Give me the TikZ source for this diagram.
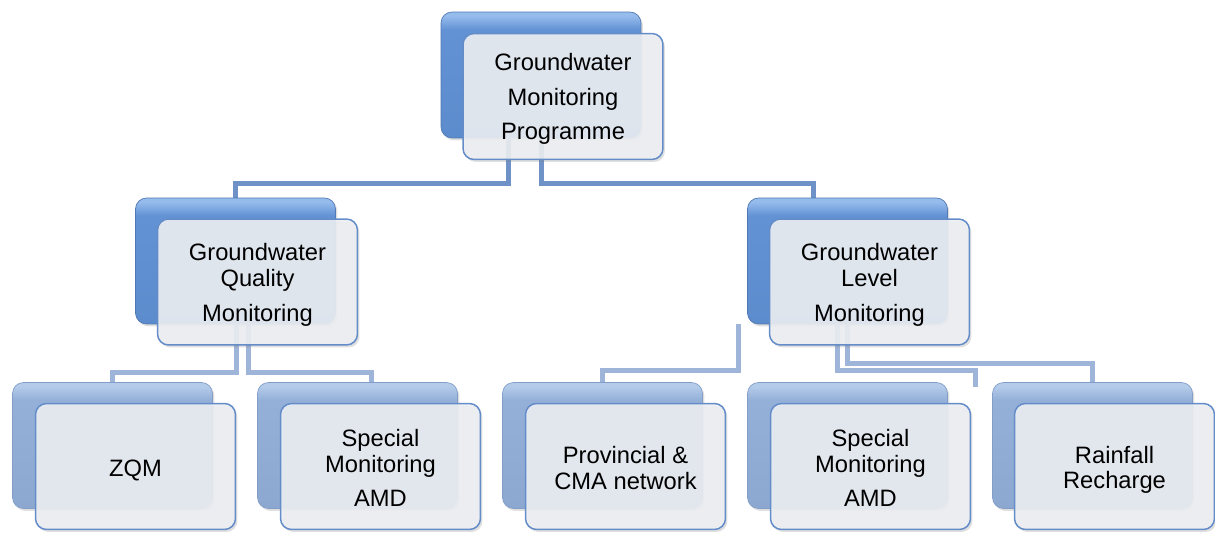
\documentclass[tikz,border=0pt]{standalone}
\usepackage{fontspec}
\setmainfont{Liberation Sans}
\usetikzlibrary{calc,shadows}
\definecolor{bAt}{RGB}{150,188,236}
\definecolor{bAm}{RGB}{98,146,212}
\definecolor{bAb}{RGB}{92,140,204}
\definecolor{bBt}{RGB}{180,204,234}
\definecolor{bBm}{RGB}{148,176,216}
\definecolor{bBb}{RGB}{140,168,208}
\definecolor{backedge}{RGB}{80,120,180}
\definecolor{backedgeB}{RGB}{130,158,200}
\definecolor{frontfill}{RGB}{236,239,243}
\definecolor{frontedge}{RGB}{100,140,200}
\definecolor{connA}{RGB}{110,146,200}
\definecolor{connB}{RGB}{158,180,216}
\pgfdeclareverticalshading{backshA}{100bp}{color(0bp)=(bAb); color(25bp)=(bAb); color(68bp)=(bAm); color(73.5bp)=(bAt); color(75bp)=(bAt); color(100bp)=(bAt)}
\pgfdeclareverticalshading{backshB}{100bp}{color(0bp)=(bBb); color(25bp)=(bBb); color(68bp)=(bBm); color(73.5bp)=(bBt); color(75bp)=(bBt); color(100bp)=(bBt)}
\tikzset{
  boxdim/.style={rectangle, minimum width=4cm, minimum height=2.52cm, inner sep=0pt},
  backbox/.style={boxdim, rounded corners=0.22cm, shading=backshA, draw=backedge, line width=0.4pt,
    drop shadow={opacity=0.25, shadow xshift=0.04cm, shadow yshift=-0.05cm}},
  backboxlow/.style={backbox, shading=backshB, draw=backedgeB},
  frontbox/.style={boxdim, rounded corners=0.22cm, fill=frontfill, fill opacity=0.9, draw=frontedge, line width=0.03cm,
    drop shadow={opacity=0.25, shadow xshift=0.04cm, shadow yshift=-0.05cm}},
  boxtext/.style={align=center, inner sep=0pt, font=\fontsize{13.5}{14.6}\selectfont},
  connmain/.style={draw=connA, line width=0.1cm},
  connsub/.style={draw=connB, line width=0.1cm},
}
\begin{document}
\begin{tikzpicture}[x=0.02cm, y=-0.02cm]
\useasboundingbox (0,0) rectangle (1215,534);
% positions of the back boxes
\path (541,75) node[boxdim] (tpb) {};
\path (235.5,261) node[boxdim] (qlb) {};
\path (847.5,261) node[boxdim] (llb) {};
\path (112.5,445.5) node[boxdim] (zqb) {};
\path (357.5,445.5) node[boxdim] (s1b) {};
\path (602.5,445.5) node[boxdim] (pvb) {};
\path (847.5,445.5) node[boxdim] (s2b) {};
\path (1092.5,445.5) node[boxdim] (rrb) {};
% connectors
\draw[connmain] ($(tpb.south)+(-33,0)$) -- ++(0,45) -| (qlb.north);
\draw[connmain] (tpb.south) -- ++(0,45) -| ($(llb.north)+(-34.5,0)$);
\draw[connsub] ($(qlb.south)+(0.5,0)$) -- ++(0,48) -| (zqb.north);
\draw[connsub] ($(qlb.south)+(12.5,0)$) -- ++(0,48) -| ($(s1b.north)+(13.5,0)$);
\draw[connsub] ($(llb.south)+(-109.5,0)$) -- ++(0,46) -| (pvb.north);
\draw[connsub] ($(llb.south)+(-10.5,0)$) -- ++(0,46) -| ($(s2b.north)+(127.5,5)$);
\draw[connsub] ($(llb.south)+(-0.5,0)$) -- ++(0,39) -| (rrb.north);
% boxes
\node[backbox] (tpback) at (tpb) {};
\node[frontbox] (tp) at ($(tpb)+(22,21.5)$) {};
\node[boxtext] (tpt) at ($(tp)+(0,2.5)$) {Groundwater\\[5pt]Monitoring\\[5pt]Programme};
\node[backbox] (qlback) at (qlb) {};
\node[frontbox] (ql) at ($(qlb)+(22,21)$) {};
\node[boxtext] (qlt) at ($(ql)+(0,3)$) {Groundwater\\Quality\\[5.5pt]Monitoring};
\node[backbox] (llback) at (llb) {};
\node[frontbox] (ll) at ($(llb)+(22,21)$) {};
\node[boxtext] (llt) at ($(ll)+(0,3)$) {Groundwater\\Level\\[5.5pt]Monitoring};
\node[backboxlow] (zqback) at (zqb) {};
\node[frontbox] (zq) at ($(zqb)+(23,21)$) {};
\node[boxtext] (zqt) at ($(zq)+(0,3.5)$) {ZQM};
\node[backboxlow] (s1back) at (s1b) {};
\node[frontbox] (s1) at ($(s1b)+(23,21)$) {};
\node[boxtext] (s1t) at ($(s1)+(0,1.5)$) {Special\\Monitoring\\[5pt]AMD};
\node[backboxlow] (pvback) at (pvb) {};
\node[frontbox] (pv) at ($(pvb)+(23,21)$) {};
\node[boxtext] (pvt) at ($(pv)+(0,1.5)$) {Provincial \&\\CMA network};
\node[backboxlow] (s2back) at (s2b) {};
\node[frontbox] (s2) at ($(s2b)+(23,21)$) {};
\node[boxtext] (s2t) at ($(s2)+(0,1.5)$) {Special\\Monitoring\\[5pt]AMD};
\node[backboxlow] (rrback) at (rrb) {};
\node[frontbox] (rr) at ($(rrb)+(22,21)$) {};
\node[boxtext] (rrt) at ($(rr)+(0,3.5)$) {Rainfall\\Recharge};
\end{tikzpicture}
\end{document}
